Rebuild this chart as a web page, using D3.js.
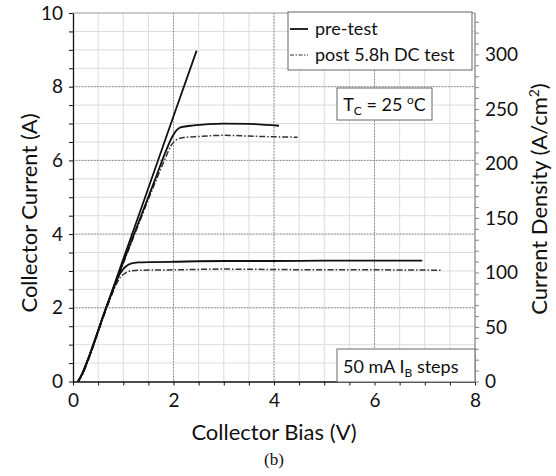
<!DOCTYPE html>
<html>
<head>
<meta charset="utf-8">
<script src="https://cdn.jsdelivr.net/npm/d3@7"></script>
<style>
  body { margin: 0; background: #fff; }
  svg { font-family: Lato, "Open Sans", sans-serif; }
</style>
</head>
<body>
<svg id="chart" width="556" height="476"></svg>
<script>
// collector I-V curves, [bias V, current A]
var preHigh = [[0.1,0],[0.18,0.2],[0.27,0.5],[0.66,2],[1.0,3.32],[1.5,5.25],[2.0,7.2],[2.46,8.98]];
var preMid = [[0.1,0],[0.18,0.2],[0.27,0.5],[0.66,2],[1.0,3.24],[1.3,4.3],[1.63,5.47],[1.85,6.26],[1.96,6.6],[2.05,6.8],[2.15,6.9],[2.4,6.95],[3.0,7.0],[3.5,6.99],[4.1,6.94]];
var preLow = [[0.1,0],[0.18,0.2],[0.27,0.5],[0.66,2],[0.95,2.96],[1.05,3.12],[1.15,3.2],[1.3,3.23],[1.6,3.24],[2,3.25],[3,3.27],[4,3.27],[5,3.28],[6,3.28],[6.95,3.28]];
var postMid = [[0.1,0],[0.19,0.2],[0.28,0.5],[0.67,2],[1.0,3.2],[1.3,4.25],[1.65,5.45],[1.85,6.1],[1.95,6.4],[2.05,6.55],[2.2,6.62],[2.5,6.65],[3.0,6.68],[3.5,6.66],[4.0,6.64],[4.47,6.63]];
var postLow = [[0.1,0],[0.19,0.2],[0.28,0.5],[0.67,2],[0.95,2.84],[1.05,2.95],[1.15,3.0],[1.35,3.02],[2,3.03],[3,3.05],[4,3.04],[5,3.03],[6,3.03],[7.33,3.02]];

var xTicks = [0, 2, 4, 6, 8];
var yTicks = [0, 2, 4, 6, 8, 10];
var densityTicks = [0, 50, 100, 150, 200, 250, 300];
var legendLabels = ["pre-test", "post 5.8h DC test"];

var svg = d3.select("#chart");
var pLeft = 73, pRight = 475, pTop = 13, pBottom = 381.5;

var x = d3.scaleLinear().domain([0, 8]).range([pLeft, pRight]);
var y = d3.scaleLinear().domain([0, 10]).range([pBottom, pTop]);
// density axis: 10 A over ~0.0296 cm2
var yR = d3.scaleLinear().domain([0, 338]).range([pBottom, pTop]);

// minor grid
var g = svg.append("g");
g.selectAll(".vminor").data(d3.range(0.5, 8, 0.5))
  .enter().append("line")
  .attr("x1", d => x(d)).attr("x2", d => x(d))
  .attr("y1", pTop).attr("y2", pBottom)
  .attr("stroke", "#dcdcdc").attr("stroke-width", 1);
g.selectAll(".hminor").data(d3.range(0.5, 10, 0.5))
  .enter().append("line")
  .attr("x1", pLeft).attr("x2", pRight)
  .attr("y1", d => y(d)).attr("y2", d => y(d))
  .attr("stroke", "#dcdcdc").attr("stroke-width", 1);

// major grid (dotted)
g.selectAll(".vmajor").data(xTicks.slice(1, -1))
  .enter().append("line")
  .attr("x1", d => x(d)).attr("x2", d => x(d))
  .attr("y1", pTop).attr("y2", pBottom)
  .attr("stroke", "#888").attr("stroke-width", 1)
  .attr("stroke-dasharray", "1.5,1.5");
g.selectAll(".hmajor").data(yTicks.slice(1, -1))
  .enter().append("line")
  .attr("x1", pLeft).attr("x2", pRight)
  .attr("y1", d => y(d)).attr("y2", d => y(d))
  .attr("stroke", "#888").attr("stroke-width", 1)
  .attr("stroke-dasharray", "1.5,1.5");

// frame top
svg.append("line").attr("x1", pLeft).attr("x2", pRight)
  .attr("y1", pTop).attr("y2", pTop)
  .attr("stroke", "#999").attr("stroke-width", 1);

// curves
var line = d3.line()
  .curve(d3.curveMonotoneX)
  .x(function (d) { return x(d[0]); })
  .y(function (d) { return y(d[1]); });

[postMid, postLow].forEach(function (s) {
  svg.append("path").datum(s)
    .attr("d", line).attr("fill", "none")
    .attr("stroke", "#333").attr("stroke-width", 1.5)
    .attr("stroke-dasharray", "6,2,1.5,2");
});
[preHigh, preMid, preLow].forEach(function (s) {
  svg.append("path").datum(s)
    .attr("d", line).attr("fill", "none")
    .attr("stroke", "#111").attr("stroke-width", 1.8);
});

// axes
function styleAxis(a, col) {
  a.select(".domain").attr("stroke", col).attr("stroke-width", 1.3);
  a.selectAll(".tick line").attr("stroke", col);
  a.selectAll("text").attr("font-size", 19).attr("fill", "#111")
    .attr("font-family", "Lato, 'Open Sans', sans-serif");
}

var ax = svg.append("g").attr("transform", "translate(0," + pBottom + ")")
  .call(d3.axisBottom(x).tickValues(d3.range(0, 8.01, 0.5))
    .tickFormat(d => xTicks.indexOf(d) >= 0 ? d : "")
    .tickSize(4).tickSizeOuter(0).tickPadding(8));
styleAxis(ax, "#111");

var ay = svg.append("g").attr("transform", "translate(" + pLeft + ",0)")
  .call(d3.axisLeft(y).tickValues(d3.range(0, 10.01, 0.5))
    .tickFormat(d => yTicks.indexOf(d) >= 0 ? d : "")
    .tickSize(4).tickSizeOuter(0).tickPadding(6));
styleAxis(ay, "#111");

var ar = svg.append("g").attr("transform", "translate(" + pRight + ",0)")
  .call(d3.axisRight(yR).tickValues(d3.range(0, 331, 10))
    .tickFormat(d => densityTicks.indexOf(d) >= 0 ? d : "")
    .tickSize(4).tickSizeOuter(0).tickPadding(6));
styleAxis(ar, "#888");
ar.select(".domain").attr("d", "M0," + pTop + "V" + pBottom);

// axis titles
svg.append("text").attr("x", 274).attr("y", 440)
  .attr("text-anchor", "middle").attr("font-size", 22).attr("fill", "#111")
  .text("Collector Bias (V)");
svg.append("text").attr("transform", "translate(37,213) rotate(-90)")
  .attr("text-anchor", "middle").attr("font-size", 22).attr("fill", "#111")
  .text("Collector Current (A)");
var rt = svg.append("text").attr("transform", "translate(547,199) rotate(-90)")
  .attr("text-anchor", "middle").attr("font-size", 22).attr("fill", "#111");
rt.append("tspan").text("Current Density (A/cm");
rt.append("tspan").attr("font-size", 14).attr("dy", -8).text("2");
rt.append("tspan").attr("dy", 8).text(")");
svg.append("text").attr("x", 274).attr("y", 465)
  .attr("text-anchor", "middle").attr("font-size", 17).attr("fill", "#111")
  .attr("font-family", "'Liberation Serif', serif")
  .text("(b)");

// legend
var lg = svg.append("g");
lg.append("rect").attr("x", 288).attr("y", 12).attr("width", 184).attr("height", 58)
  .attr("fill", "#fff").attr("stroke", "#666").attr("stroke-width", 1);
legendLabels.forEach(function (lab, i) {
  var ly = 29 + i * 26;
  lg.append("line").attr("x1", 290).attr("x2", 308).attr("y1", ly).attr("y2", ly)
    .attr("stroke", i ? "#333" : "#111").attr("stroke-width", i ? 1.2 : 1.8)
    .attr("stroke-dasharray", i ? "4,1.5,1.5,1.5" : null);
  lg.append("text").attr("x", 315).attr("y", ly + 6)
    .attr("font-size", 18).attr("fill", "#111").text(lab);
});

// temperature note
svg.append("rect").attr("x", 337).attr("y", 88).attr("width", 95).attr("height", 32)
  .attr("fill", "#fff").attr("stroke", "#666");
var tc = svg.append("text").attr("x", 384.5).attr("y", 111)
  .attr("text-anchor", "middle").attr("font-size", 18).attr("fill", "#111");
tc.append("tspan").text("T");
tc.append("tspan").attr("font-size", 12).attr("dy", 4).text("C");
tc.append("tspan").attr("dy", -4).text(" = 25 ");
tc.append("tspan").attr("font-size", 12).attr("dy", -7).text("o");
tc.append("tspan").attr("dy", 7).text("C");

// base current note
svg.append("rect").attr("x", 337).attr("y", 349).attr("width", 138).attr("height", 33)
  .attr("fill", "#fff").attr("stroke", "#666");
var ib = svg.append("text").attr("x", 343).attr("y", 373)
  .attr("font-size", 18).attr("fill", "#111");
ib.append("tspan").text("50 mA I");
ib.append("tspan").attr("font-size", 12).attr("dy", 4).text("B");
ib.append("tspan").attr("dy", -4).text(" steps");
</script>
</body>
</html>
